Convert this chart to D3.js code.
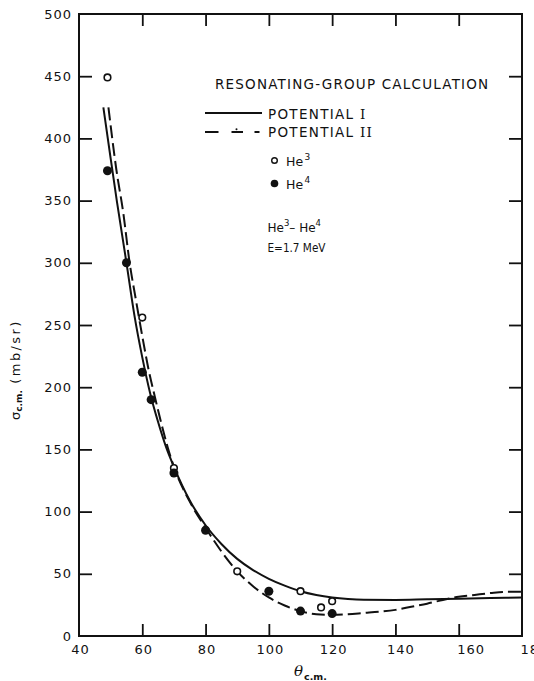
<!DOCTYPE html>
<html>
<head>
<meta charset="utf-8">
<script src="https://cdn.jsdelivr.net/npm/d3@7"></script>
<style>
  body { margin: 0; background: #fff; }
  .tickText { font-family: "DejaVu Sans", sans-serif; font-size: 13px; letter-spacing: 1px; fill: #111; }
  .lbl { font-family: "DejaVu Sans", sans-serif; fill: #111; }
</style>
</head>
<body>
<div id="chart"></div>
<script>
// theta (c.m., degrees) and sigma (mb/sr)
var potI_theta  = [47.7, 50, 52, 55, 57.5, 60, 62.5, 65, 67.5, 70, 75, 80, 85, 90, 95, 100, 105, 110, 115, 120, 125, 130, 140, 150, 160, 170, 180];
var potI_sigma  = [425, 384, 349, 300, 258, 224, 195, 172, 152, 136, 109, 89, 74, 62, 53, 46, 40.5, 36, 33, 31, 29.8, 29.2, 29, 29.5, 30, 30.5, 31];

var potII_theta = [49.3, 51.8, 54, 56, 58, 60, 62, 64, 66, 68, 70, 75, 80, 85, 90, 95, 100, 105, 110, 115, 120, 125, 130, 135, 140, 145, 150, 155, 160, 165, 170, 175, 180];
var potII_sigma = [425, 375, 340, 300, 270, 241, 214, 192, 171, 152, 136, 108, 87, 68, 52, 40, 31, 24.5, 20, 17.5, 17, 17.5, 18.5, 19.5, 21, 23.5, 26, 29, 31.5, 33, 34.5, 35.5, 35.5];

var he3_theta = [49, 60, 70, 90, 110, 116.5, 120];
var he3_sigma = [449, 256, 135, 52, 36, 23, 28];

var he4_theta = [49, 55, 60, 62.8, 70, 80, 100, 110, 120];
var he4_sigma = [374, 300, 212, 190, 131, 85, 36, 20, 18];

var xTicks = [40, 60, 80, 100, 120, 140, 160, 180];
var yTicks = [0, 50, 100, 150, 200, 250, 300, 350, 400, 450, 500];

var svgWidth = 534;
var svgHeight = 681;
var margin = { top: 14, right: 12, bottom: 45, left: 79 };
var width = svgWidth - margin.left - margin.right;
var height = svgHeight - margin.top - margin.bottom;

var svg = d3.select("#chart").append("svg")
  .attr("width", svgWidth)
  .attr("height", svgHeight);

var chartGroup = svg.append("g")
  .attr("transform", `translate(${margin.left}, ${margin.top})`);

var xScale = d3.scaleLinear().domain([40, 180]).range([0, width]);
var yScale = d3.scaleLinear().domain([0, 500]).range([height, 0]);

// inward ticks on all four sides
var leftAxis = chartGroup.append("g")
  .call(d3.axisLeft(yScale).tickValues(yTicks).tickSize(-13).tickPadding(7));
var bottomAxis = chartGroup.append("g")
  .attr("transform", `translate(0, ${height})`)
  .call(d3.axisBottom(xScale).tickValues(xTicks).tickSize(-12).tickPadding(9));
chartGroup.append("g")
  .call(d3.axisTop(xScale).tickValues(xTicks.slice(1, -1)).tickSize(-12).tickFormat(""));
chartGroup.append("g")
  .attr("transform", `translate(${width}, 0)`)
  .call(d3.axisRight(yScale).tickValues(yTicks.slice(1, -1)).tickSize(-13).tickFormat(""));

chartGroup.selectAll(".domain").remove();
chartGroup.selectAll(".tick line").attr("stroke", "#111").attr("stroke-width", 1.8);
leftAxis.selectAll(".tick").filter(function(d) { return d === 0 || d === 500; }).select("line").remove();
bottomAxis.selectAll(".tick").filter(function(d) { return d === 40 || d === 180; }).select("line").remove();
chartGroup.selectAll(".tick text").attr("class", "tickText").attr("font-family", null).attr("font-size", null);
// the printed labels drift right toward the end of the scale
bottomAxis.selectAll(".tick text").attr("dx", function(d) {
  return d >= 160 ? 12 : d === 140 ? 5 : 1;
});

chartGroup.append("rect")
  .attr("width", width)
  .attr("height", height)
  .attr("fill", "none")
  .attr("stroke", "#111")
  .attr("stroke-width", 2);

// curves
var line = d3.line()
  .x(function(d) { return xScale(d[0]); })
  .y(function(d) { return yScale(d[1]); })
  .curve(d3.curveMonotoneX);

chartGroup.append("path")
  .datum(d3.zip(potI_theta, potI_sigma))
  .attr("d", line)
  .attr("fill", "none")
  .attr("stroke", "#111")
  .attr("stroke-width", 2);

chartGroup.append("path")
  .datum(d3.zip(potII_theta, potII_sigma))
  .attr("d", line)
  .attr("fill", "none")
  .attr("stroke", "#111")
  .attr("stroke-width", 2)
  .attr("stroke-dasharray", "13,5");

// data points
chartGroup.selectAll(".he3").data(d3.zip(he3_theta, he3_sigma)).enter()
  .append("circle")
  .attr("class", "he3")
  .attr("cx", function(d) { return xScale(d[0]); })
  .attr("cy", function(d) { return yScale(d[1]); })
  .attr("r", 3.3)
  .attr("fill", "#fff")
  .attr("stroke", "#111")
  .attr("stroke-width", 1.6);

chartGroup.selectAll(".he4").data(d3.zip(he4_theta, he4_sigma)).enter()
  .append("circle")
  .attr("class", "he4")
  .attr("cx", function(d) { return xScale(d[0]); })
  .attr("cy", function(d) { return yScale(d[1]); })
  .attr("r", 4.5)
  .attr("fill", "#111");

// legend block
svg.append("text").attr("class", "lbl")
  .attr("x", 215).attr("y", 89)
  .attr("font-size", 13.5).attr("letter-spacing", 1.2)
  .text("RESONATING-GROUP CALCULATION");

svg.append("line").attr("x1", 205).attr("x2", 262).attr("y1", 113).attr("y2", 113)
  .attr("stroke", "#111").attr("stroke-width", 2);
// dash-dot sample as drawn in the key
svg.append("line").attr("x1", 205).attr("x2", 260).attr("y1", 132).attr("y2", 132)
  .attr("stroke", "#111").attr("stroke-width", 2).attr("stroke-dasharray", "13.5,13,11.5,11.5,5");
svg.append("circle").attr("cx", 236.5).attr("cy", 129.3).attr("r", 1).attr("fill", "#111");

var potLabel = svg.append("text").attr("class", "lbl")
  .attr("x", 268).attr("y", 119).attr("font-size", 13.5).attr("letter-spacing", 1.3);
potLabel.append("tspan").text("POTENTIAL ");
potLabel.append("tspan").attr("font-family", "DejaVu Serif").text("I");

var pot2Label = svg.append("text").attr("class", "lbl")
  .attr("x", 268).attr("y", 137).attr("font-size", 13.5).attr("letter-spacing", 1.3);
pot2Label.append("tspan").text("POTENTIAL ");
pot2Label.append("tspan").attr("font-family", "DejaVu Serif").text("II");

svg.append("circle").attr("cx", 274.5).attr("cy", 160.5).attr("r", 2.8)
  .attr("fill", "#fff").attr("stroke", "#111").attr("stroke-width", 1.4);
svg.append("circle").attr("cx", 274.5).attr("cy", 183.5).attr("r", 3.8).attr("fill", "#111");

function heLabel(x, y, mass) {
  var t = svg.append("text").attr("class", "lbl").attr("x", x).attr("y", y).attr("font-size", 12.5);
  t.append("tspan").text("He");
  t.append("tspan").attr("font-size", 9).attr("dy", -6).attr("dx", 1.5).text(mass);
  return t;
}
heLabel(286, 165.5, "3");
heLabel(286, 188.5, "4");

var reac = svg.append("text").attr("class", "lbl").attr("x", 267.5).attr("y", 232).attr("font-size", 12);
reac.append("tspan").text("He");
reac.append("tspan").attr("font-size", 8.5).attr("dy", -6).text("3");
reac.append("tspan").attr("dy", 6).text("\u2013 He");
reac.append("tspan").attr("font-size", 8.5).attr("dy", -6).text("4");

svg.append("text").attr("class", "lbl").attr("x", 267.5).attr("y", 252)
  .attr("font-size", 12.5)
  .attr("textLength", 58).attr("lengthAdjust", "spacingAndGlyphs")
  .text("E=1.7 MeV");

// axis titles
var yTitle = svg.append("text").attr("class", "lbl")
  .attr("transform", "translate(20, 420) rotate(-90)")
  .attr("font-size", 13);
yTitle.append("tspan").text("\u03c3");
yTitle.append("tspan").attr("font-size", 9).attr("font-weight", "bold").attr("dy", 2).text("c.m.");
yTitle.append("tspan").attr("dy", -2).attr("letter-spacing", 2.4).text(" (mb/sr)");

var xTitle = svg.append("text").attr("class", "lbl").attr("x", 294).attr("y", 676).attr("font-size", 15);
xTitle.append("tspan").attr("font-style", "italic").attr("font-family", "DejaVu Serif").text("\u03b8");
xTitle.append("tspan").attr("font-size", 9.5).attr("font-weight", "bold").attr("dy", 4).attr("dx", 1).text("c.m.");
</script>
</body>
</html>
